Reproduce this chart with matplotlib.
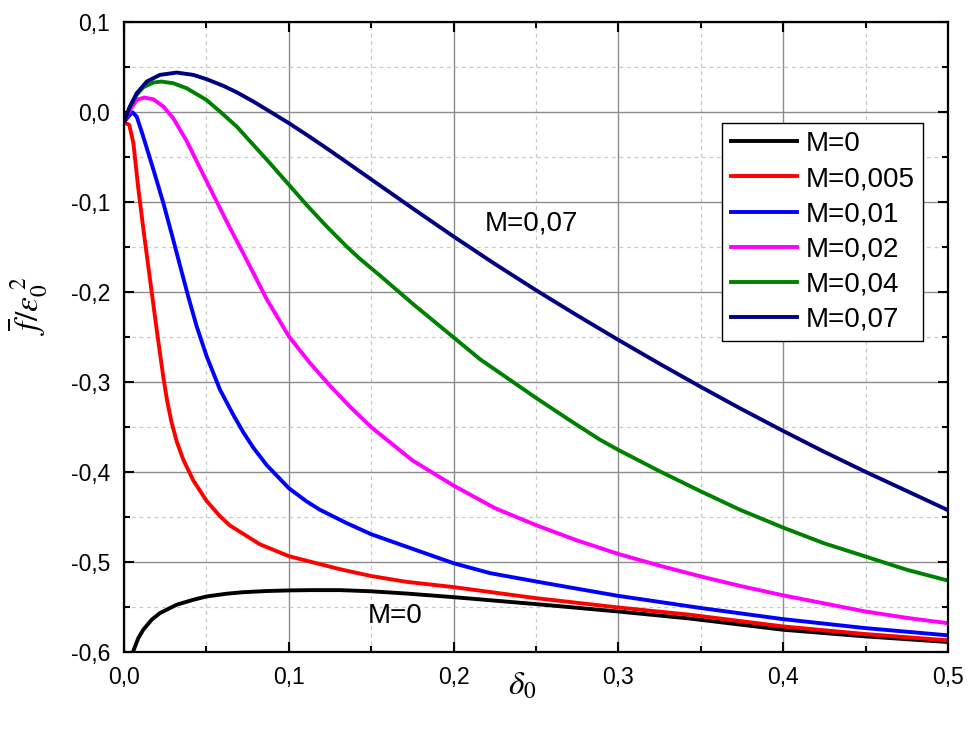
import matplotlib
matplotlib.use("Agg")
import matplotlib.pyplot as plt
from matplotlib.ticker import MultipleLocator, FixedLocator

plt.rcParams['font.family'] = ['Liberation Sans', 'DejaVu Sans']
plt.rcParams['mathtext.fontset'] = 'stix'

# f/eps0^2 against delta_0, one curve per Mach number
x_m0 = [0.0045, 0.0057, 0.0087, 0.0117, 0.0168, 0.0218, 0.0320, 0.0421, 0.0502, 0.0623,
        0.0724, 0.0866, 0.1007, 0.1129, 0.1311, 0.1499, 0.1715, 0.1998, 0.2498, 0.2996,
        0.3435, 0.3997, 0.4497, 0.5002]
y_m0 = [-0.606, -0.5986, -0.5845, -0.5752, -0.5641, -0.5567, -0.5474, -0.5419, -0.5382, -0.5352,
        -0.5335, -0.5322, -0.5315, -0.5312, -0.5312, -0.5325, -0.5350, -0.5390, -0.5467, -0.5549,
        -0.5628, -0.5752, -0.5826, -0.5889]

x_m005 = [0.0, 0.0032, 0.0057, 0.0087, 0.0117, 0.0158, 0.0198, 0.0239, 0.0263, 0.0289,
          0.0320, 0.0360, 0.0421, 0.0502, 0.0583, 0.0643, 0.0825, 0.1001, 0.1311, 0.1499,
          0.1715, 0.1998, 0.2498, 0.2996, 0.3435, 0.3997, 0.4497, 0.5002]
y_m005 = [-0.0111, -0.0141, -0.0344, -0.0850, -0.1290, -0.1860, -0.2410, -0.2950, -0.3220, -0.3450,
          -0.3660, -0.3863, -0.4095, -0.4322, -0.4492, -0.4594, -0.4803, -0.4935, -0.5080, -0.5155,
          -0.5220, -0.5278, -0.5401, -0.5504, -0.5586, -0.5715, -0.5800, -0.5870]

x_m01 = [0.0, 0.0026, 0.0051, 0.0077, 0.0107, 0.0148, 0.0188, 0.0239, 0.0299, 0.0345,
         0.0390, 0.0441, 0.0502, 0.0583, 0.0663, 0.0724, 0.0785, 0.0866, 0.1001, 0.1108,
         0.1189, 0.1351, 0.1499, 0.1715, 0.1998, 0.2221, 0.2498, 0.2727, 0.2996, 0.3501,
         0.3997, 0.4497, 0.5002]
y_m01 = [-0.0111, -0.0048, 0.0, -0.0048, -0.0215, -0.0456, -0.0696, -0.1011, -0.1419, -0.1740,
         -0.2050, -0.2380, -0.2715, -0.3086, -0.3363, -0.3558, -0.3729, -0.3923, -0.4180, -0.4326,
         -0.4419, -0.4567, -0.4690, -0.4830, -0.5012, -0.5123, -0.5215, -0.5289, -0.5375, -0.5511,
         -0.5634, -0.5734, -0.5815]

x_m02 = [0.0, 0.0036, 0.0077, 0.0123, 0.0178, 0.0239, 0.0299, 0.0380, 0.0502, 0.0623,
         0.0744, 0.0866, 0.1001, 0.1125, 0.125, 0.1375, 0.15, 0.175, 0.2, 0.225,
         0.25, 0.275, 0.3, 0.325, 0.35, 0.375, 0.4, 0.425, 0.45, 0.475, 0.5]
y_m02 = [-0.0111, 0.0026, 0.0137, 0.0163, 0.0144, 0.0063, -0.0067, -0.0319, -0.0770, -0.1215,
         -0.1641, -0.2078, -0.2493, -0.2780, -0.3040, -0.3280, -0.3500, -0.3870, -0.4150, -0.4400,
         -0.4590, -0.4760, -0.4910, -0.5040, -0.5160, -0.5270, -0.5370, -0.5460, -0.5550, -0.5620,
         -0.5680]

x_m04 = [0.0, 0.0036, 0.0077, 0.0117, 0.0178, 0.0229, 0.0299, 0.0380, 0.0500, 0.0583,
         0.0684, 0.0785, 0.0886, 0.1001, 0.1108, 0.1230, 0.1351, 0.1432, 0.1553, 0.1756,
         0.1998, 0.2160, 0.2500, 0.2700, 0.2888, 0.2998, 0.3253, 0.3501, 0.3738, 0.3997,
         0.4244, 0.4497, 0.4749, 0.5002]
y_m04 = [-0.0111, 0.0063, 0.0193, 0.0278, 0.0330, 0.0341, 0.0322, 0.0267, 0.0137, 0.0007,
         -0.0159, -0.0363, -0.0567, -0.0807, -0.1030, -0.1270, -0.1493, -0.1630, -0.1815, -0.2135,
         -0.2500, -0.2745, -0.3175, -0.3418, -0.3640, -0.3752, -0.3993, -0.4215, -0.4419, -0.4615,
         -0.4789, -0.4937, -0.5085, -0.5207]

x_m07 = [0.0, 0.0036, 0.0077, 0.0138, 0.0218, 0.0320, 0.0421, 0.0502, 0.0603, 0.0684,
         0.0785, 0.0886, 0.1001, 0.1108, 0.1230, 0.1351, 0.1432, 0.1553, 0.1756, 0.1998,
         0.2241, 0.2500, 0.2747, 0.2998, 0.3253, 0.3501, 0.3738, 0.3997, 0.4244, 0.4497,
         0.4749, 0.5002]
y_m07 = [-0.0111, 0.0063, 0.0211, 0.0341, 0.0415, 0.0441, 0.0415, 0.0367, 0.0293, 0.0222,
         0.0119, 0.0007, -0.0122, -0.0250, -0.0401, -0.0555, -0.0659, -0.0814, -0.1074, -0.1379,
         -0.1675, -0.1978, -0.2255, -0.2529, -0.2799, -0.3054, -0.3291, -0.3540, -0.3770, -0.3995,
         -0.4209, -0.4425]

labels = ['M=0', 'M=0,005', 'M=0,01', 'M=0,02', 'M=0,04', 'M=0,07']
colors = ['black', '#ff0000', '#0000ff', '#ff00ff', '#008000', '#000080']

x_ticks = [0.0, 0.1, 0.2, 0.3, 0.4, 0.5]
x_ticklabels = ['0,0', '0,1', '0,2', '0,3', '0,4', '0,5']
y_ticks = [-0.6, -0.5, -0.4, -0.3, -0.2, -0.1, 0.0, 0.1]
y_ticklabels = ['-0,6', '-0,5', '-0,4', '-0,3', '-0,2', '-0,1', '0,0', '0,1']

fig = plt.figure(figsize=(9.71, 7.35), dpi=100)
ax = fig.add_axes([0.1277, 0.1129, 0.8486, 0.8568])

series = [(x_m0, y_m0), (x_m005, y_m005), (x_m01, y_m01),
          (x_m02, y_m02), (x_m04, y_m04), (x_m07, y_m07)]
for (xs, ys), lab, col in zip(series, labels, colors):
    ax.plot(xs, ys, color=col, lw=2.8, label=lab, solid_joinstyle='round')

ax.set_xlim(0, 0.5)
ax.set_ylim(-0.6, 0.1)
ax.xaxis.set_major_locator(FixedLocator(x_ticks))
ax.yaxis.set_major_locator(FixedLocator(y_ticks))
ax.set_xticklabels(x_ticklabels)
ax.set_yticklabels(y_ticklabels)
ax.xaxis.set_minor_locator(MultipleLocator(0.05))
ax.yaxis.set_minor_locator(MultipleLocator(0.05))

ax.grid(which='major', color='#8c8c8c', lw=1.0, ls='-')
ax.grid(which='minor', color='#c8c8c8', lw=0.9, ls=(0, (3, 3)))
ax.set_axisbelow(True)

ax.tick_params(which='both', direction='in', top=True, right=True, width=1.5)
ax.tick_params(which='major', length=7, labelsize=16.5, pad=10)
ax.tick_params(which='minor', length=4)
for sp in ax.spines.values():
    sp.set_linewidth(1.6)

ax.set_xlabel(r'$\delta_0$', fontsize=24)
ax.xaxis.set_label_coords(0.483, -0.03)
ax.set_ylabel(r'$\overline{f}/\varepsilon_0^{\;2}$', fontsize=24)
ax.yaxis.set_label_coords(-0.09, 0.55)

ax.text(0.247, -0.124, 'M=0,07', fontsize=20, ha='center', va='center')
ax.text(0.1647, -0.5604, 'M=0', fontsize=20, ha='center', va='center')

leg = ax.legend(loc='upper left', bbox_to_anchor=(0.726, 0.8405), borderaxespad=0,
                fontsize=20, handlelength=2.4, handletextpad=0.3, borderpad=0.3,
                labelspacing=0.33, fancybox=False, framealpha=1, edgecolor='black')
leg.get_frame().set_linewidth(1.0)

fig.savefig('out.png', dpi=100)
